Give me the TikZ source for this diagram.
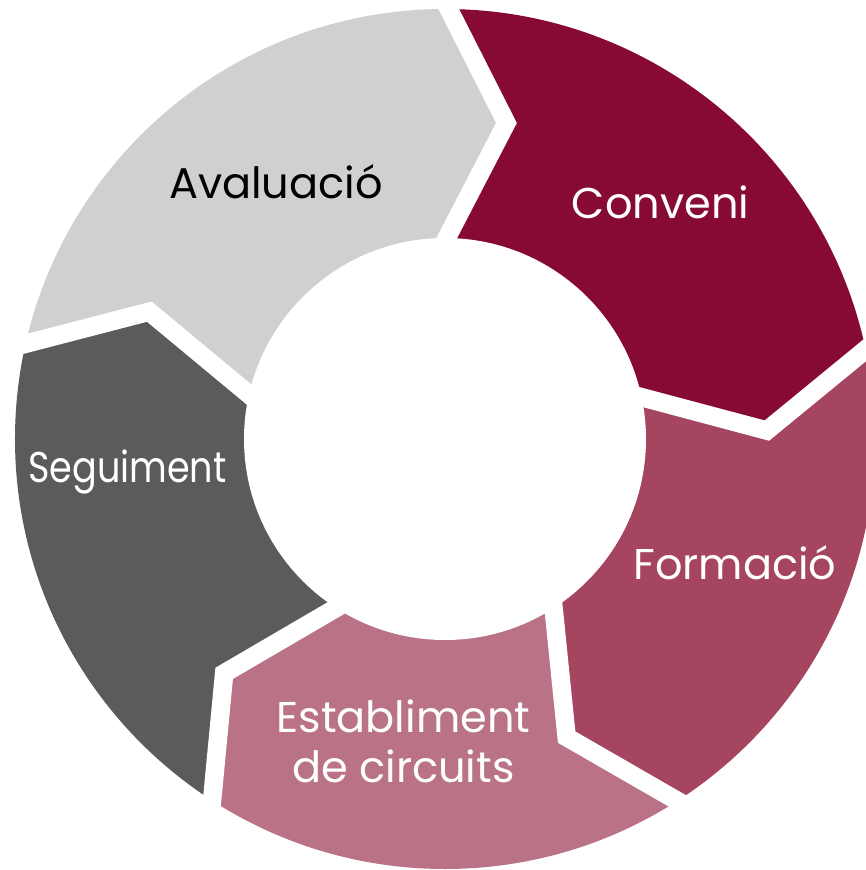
\documentclass[tikz,border=0pt]{standalone}
\usepackage{fontspec}
\setmainfont{Poppins}
\usetikzlibrary{calc}
\definecolor{conveni}{RGB}{135, 10, 52}
\definecolor{formacio}{RGB}{165, 69, 95}
\definecolor{establiment}{RGB}{186, 115, 134}
\definecolor{seguiment}{RGB}{91, 91, 91}
\definecolor{avaluacio}{RGB}{208, 208, 208}
\tikzstyle{steplabel} = [font=\fontsize{24.5}{28.5}\selectfont, text=white, inner sep=0pt, anchor=base]
\tikzstyle{gapline}   = [draw=white, line width=0.37cm, line join=miter, miter limit=10]

\begin{document}
\begin{tikzpicture}[x=0.02cm, y=0.02cm]
  \useasboundingbox (-445,-431) rectangle (421,439);

  % ring segments, each between two gap angles
  \begin{scope}
    \clip (0,0) circle (430);
    \foreach \a/\b/\col in {89.5/12/conveni, 12/-57.3/formacio, -57.3/-122.8/establiment,
                            -122.8/-192.8/seguiment, 167.2/89.5/avaluacio}
      \fill[\col] (0,0) -- (\a:201) -- (\a-10.5:322) -- (\a:430) -- (\a:470)
        arc[start angle=\a, end angle=\b, radius=470]
        -- (\b:430) -- (\b-10.5:322) -- (\b:201) -- cycle;
  \end{scope}

  \fill[white] (0,0) circle (201);

  % white chevron gaps
  \foreach \a in {89.5, 12, -57.3, -122.8, 167.2}
    \draw[gapline] ($(\a-10.5:322)!1.4!(\a:201)$) -- (\a-10.5:322) -- ($(\a-10.5:322)!1.4!(\a:430)$);

  \node (aval)  [steplabel, text=black] at (-169, 241)  {Avaluació};
  \node (conv)  [steplabel] at (215.5, 221)  {Conveni};
  \node (form)  [steplabel] at (290, -140)   {Formació};
  \node (segu)  [steplabel] at (-317.5, -43) {\addfontfeatures{FakeStretch=0.85}Seguiment};
  \node (estab) [steplabel] at (-41.5, -293) {Establiment};
  \node (circ)  [steplabel] at (-41.5, -343) {de circuits};
\end{tikzpicture}
\end{document}
